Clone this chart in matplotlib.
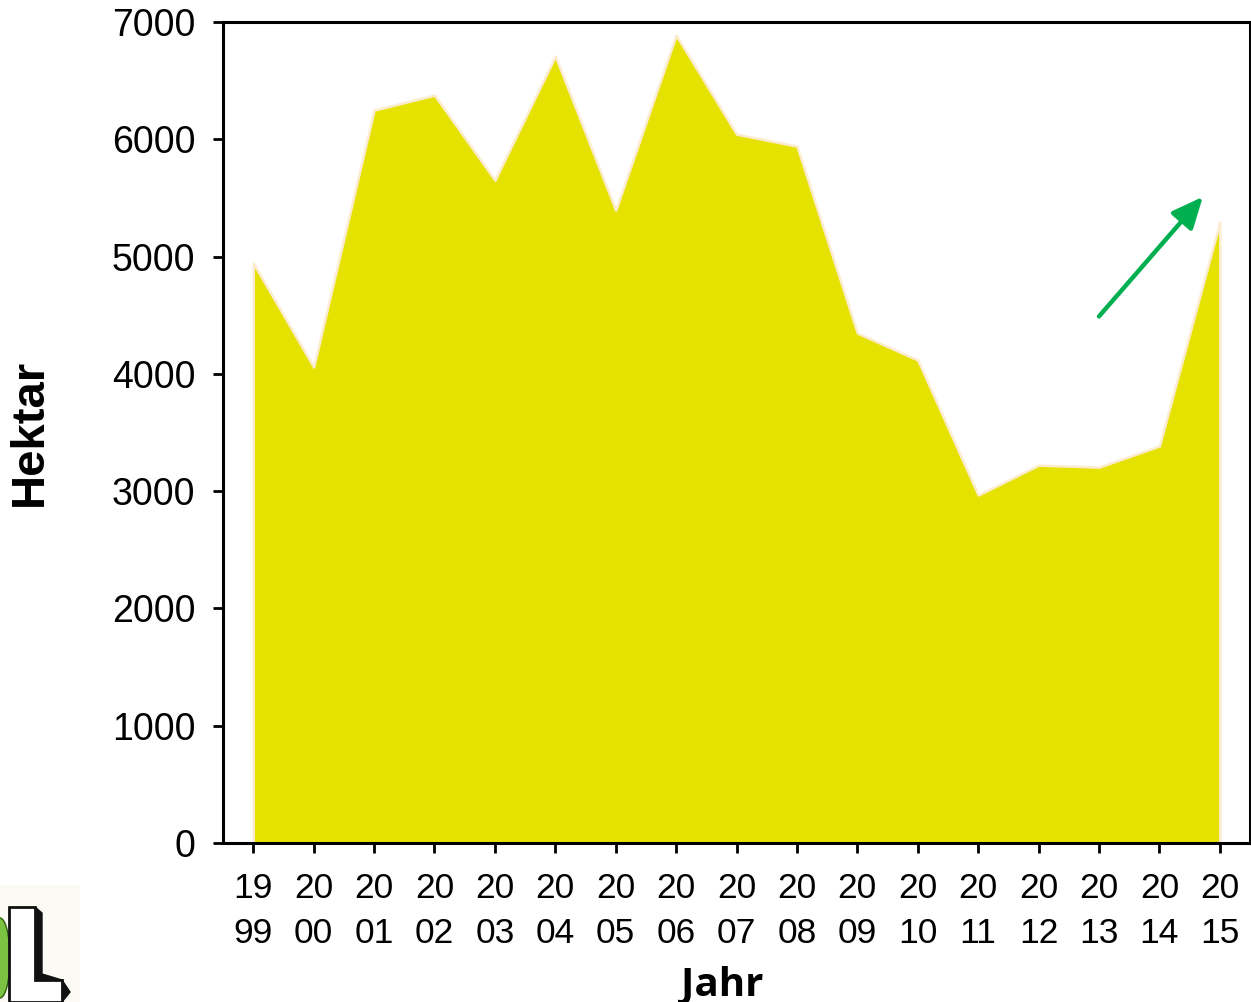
import matplotlib
matplotlib.use("Agg")
import matplotlib.pyplot as plt
from matplotlib.patches import Ellipse, Rectangle, Polygon

years = list(range(1999, 2016))
hektar = [4945, 4058, 6249, 6377, 5652, 6709, 5396, 6888, 6044, 5942,
          4348, 4118, 2967, 3222, 3205, 3385, 5294]
tick_labels = ["19\n99", "20\n00", "20\n01", "20\n02", "20\n03", "20\n04",
               "20\n05", "20\n06", "20\n07", "20\n08", "20\n09", "20\n10",
               "20\n11", "20\n12", "20\n13", "20\n14", "20\n15"]
y_ticks = [0, 1000, 2000, 3000, 4000, 5000, 6000, 7000]
arrow_start = (2013.0, 4490)
arrow_end = (2014.72, 5510)

W, H = 1251, 1002
fig = plt.figure(figsize=(W / 100, H / 100), dpi=100)
ax = fig.add_axes([0.1783, 0.1587, 0.8209, 0.8193])

ax.fill_between(years, hektar, 0, facecolor="#E6E200", edgecolor="#FBEBCF",
                linewidth=1.8, zorder=2)

ax.set_xlim(1998.5, 2015.5)
ax.set_ylim(0, 7000)
ax.set_xticks(years)
ax.set_xticklabels(tick_labels, family="Liberation Sans", fontsize=25.5,
                   linespacing=1.45)
ax.set_yticks(y_ticks)
ax.set_yticklabels([str(v) for v in y_ticks], family="Liberation Sans",
                   fontsize=27)
ax.tick_params(axis="x", length=7, width=2, pad=14, direction="out")
ax.tick_params(axis="y", length=7, width=2, pad=13, direction="out")
for s in ax.spines.values():
    s.set_linewidth(2.2)
    s.set_color("black")

ax.set_ylabel("Hektar", family="Liberation Sans", fontweight="bold",
              fontsize=34)
ax.yaxis.set_label_coords(-0.1665, 0.5)
ax.set_xlabel("Jahr", family="Open Sans", fontweight="bold", fontsize=29)
ax.xaxis.set_label_coords(0.486, -0.149)

ax.annotate("", xy=arrow_end, xytext=arrow_start,
            arrowprops=dict(arrowstyle="-|>,head_length=1.9,head_width=0.85",
                            color="#00B050", lw=3.2, shrinkA=0, shrinkB=0),
            zorder=5)

# partial logo bottom-left (decoration, figure pixel coordinates)
def fpx(pts):
    return [(x / W, 1 - y / H) for x, y in pts]

fig.patches.append(Rectangle((0, 0), 80 / W, 117 / H, transform=fig.transFigure,
                             facecolor="#FCFAF4", edgecolor="none"))
fig.patches.append(Ellipse((0.0, 1 - 958 / H), 20 / W, 80 / H,
                           transform=fig.transFigure,
                           facecolor="#7CC242", edgecolor="#2E5E10", lw=1))
L_shape = [(9, 907), (35, 907), (35, 980), (62, 980), (62, 1002), (9, 1002)]
shadow = [(35, 907), (42, 913), (42, 974), (62, 980), (70, 992), (62, 1002),
          (35, 980)]
fig.patches.append(Polygon(fpx(shadow), closed=True, transform=fig.transFigure,
                           facecolor="#111111", edgecolor="#111111", lw=1))
fig.patches.append(Polygon(fpx(L_shape), closed=True, transform=fig.transFigure,
                           facecolor="white", edgecolor="#111111", lw=2))

fig.savefig("out.png", dpi=100)
